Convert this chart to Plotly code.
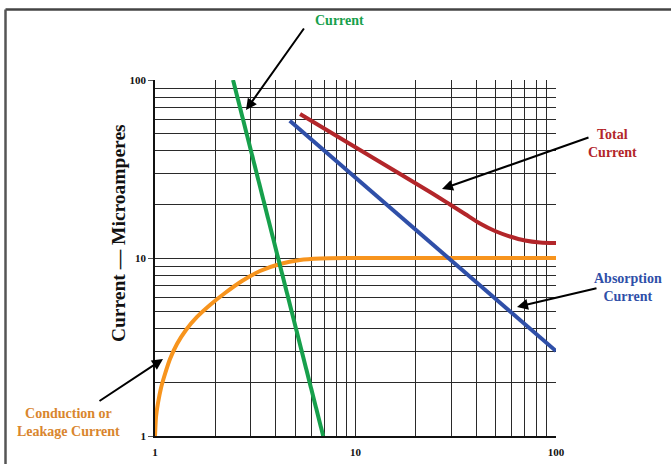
import plotly.graph_objects as go

# Time (minutes) vs. current (microamperes) for an insulation resistance test
charging_t = [2.45, 6.9]
charging_i = [100, 1]

absorption_t = [4.7, 100]
absorption_i = [59, 3.0]

leakage_t = [1.0, 1.0115, 1.035, 1.0713, 1.1216, 1.188, 1.2872, 1.4273, 1.6199, 1.8808,
             2.2347, 2.716, 3.3397, 4.2022, 5.2875, 6.6527, 8.861, 30, 100]
leakage_i = [1.0, 1.279, 1.532, 1.861, 2.23, 2.707, 3.287, 3.941, 4.663, 5.445,
             6.359, 7.427, 8.452, 9.256, 9.745, 9.935, 10.0, 10.0, 10.0]

total_t = [5.29, 12.51, 23.53, 29.6, 35.17, 41.78, 49.63, 58.97, 70.03, 83.21, 100]
total_i = [64.4, 36.0, 23.49, 19.98, 17.67, 15.63, 14.18, 13.21, 12.54, 12.22, 12.14]

decades = [1, 10, 100]
minor_vals = [m * d for d in (1, 10) for m in range(2, 10)]

GREEN = "#17a04c"
BLUE = "#2f4fa8"
ORANGE = "#f7941d"
RED = "#b3262a"
SERIF = "Liberation Serif"

fig = go.Figure()
fig.add_trace(go.Scatter(x=leakage_t, y=leakage_i, mode="lines",
                         line=dict(color=ORANGE, width=4, shape="spline", smoothing=0.6)))
fig.add_trace(go.Scatter(x=charging_t, y=charging_i, mode="lines",
                         line=dict(color=GREEN, width=4)))
fig.add_trace(go.Scatter(x=absorption_t, y=absorption_i, mode="lines",
                         line=dict(color=BLUE, width=4)))
fig.add_trace(go.Scatter(x=total_t, y=total_i, mode="lines",
                         line=dict(color=RED, width=4, shape="spline", smoothing=0.8)))

axis_common = dict(
    type="log", range=[0, 2], automargin=False,
    tickvals=decades, ticktext=[f"<b>{v}</b>" for v in decades],
    showgrid=True, gridcolor="#2a2a2a", gridwidth=1.4,
    minor=dict(tickvals=minor_vals, showgrid=True, gridcolor="#2a2a2a", gridwidth=1.4, ticks=""),
    showline=True, linecolor="#111", linewidth=1.5,
    tickfont=dict(family=SERIF, size=11, color="#111"),
    zeroline=False,
)

fig.update_layout(
    width=671, height=464,
    margin=dict(l=155, r=115, t=80, b=28),
    paper_bgcolor="white", plot_bgcolor="white",
    showlegend=False,
    xaxis=dict(**axis_common, ticks="", ticklen=0, ticklabelstandoff=5),
    yaxis=dict(**axis_common, ticks="outside", ticklen=5, tickcolor="#555"),
)


def label(text, x, y, color, size=14):
    fig.add_annotation(text=f"<b>{text}</b>", x=x, y=y, xref="paper", yref="paper",
                       showarrow=False, xanchor="center", yanchor="middle",
                       font=dict(family=SERIF, size=size, color=color))


def pointer(x, y, ax, ay):
    fig.add_annotation(text="", x=x, y=y, xref="paper", yref="paper",
                       ax=ax, ay=ay, showarrow=True, arrowhead=2, arrowsize=1.1,
                       arrowwidth=2, arrowcolor="black", standoff=0, startstandoff=0)


label("Current", 0.4613, 1.1685, GREEN)
label("Total<br>Current", 1.142, 0.823, RED)
label("Absorption<br>Current", 1.1796, 0.4185, BLUE)
label("Conduction or<br>Leakage Current", -0.2145, 0.0393, "#d9862e")

pointer(0.2269, 0.9157, 59, -83)
pointer(0.7157, 0.6938, 148, -52)
pointer(0.9027, 0.3624, 81, -19)
pointer(0.01995, 0.2163, -65, 43)

fig.add_annotation(text="<b>Current — Microamperes</b>", x=-0.0923, y=0.570,
                   xref="paper", yref="paper", showarrow=False, textangle=-90,
                   xanchor="center", yanchor="middle",
                   font=dict(family=SERIF, size=19.5, color="#111"))

# outer frame
fig.add_shape(type="line", xref="paper", yref="paper", x0=-0.3728, x1=1.3, y0=1.198, y1=1.198,
              line=dict(color="#444", width=2.5))
fig.add_shape(type="line", xref="paper", yref="paper", x0=-0.3728, x1=-0.3728, y0=1.198, y1=-0.1,
              line=dict(color="#555", width=2.5))

fig.write_html("out.html")
